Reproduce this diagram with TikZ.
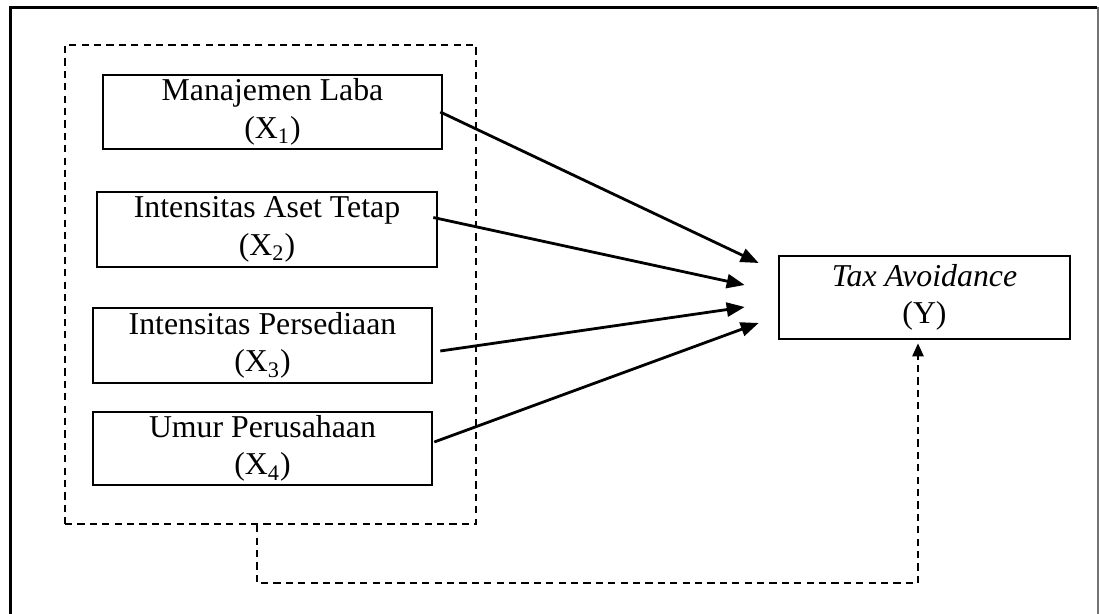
\documentclass[tikz,border=0pt]{standalone}
\usepackage{fontspec}
\setmainfont{Liberation Serif}
\usetikzlibrary{arrows.meta,calc}

\begin{document}
\begin{tikzpicture}[
  x=0.5pt, y=-0.5pt,
  varbox/.style={draw, line width=1.3pt, rectangle, inner sep=0pt, align=center,
    font=\fontsize{15.9pt}{18.8pt}\selectfont},
  groupbox/.style={draw, line width=1.2pt, dash pattern=on 3.6pt off 2.6pt, rectangle, inner sep=0pt},
  effect/.style={line width=1.4pt, -{Triangle[length=9pt,width=7pt]}},
  joint/.style={line width=1.2pt, dash pattern=on 3.6pt off 2.6pt, -{Triangle[length=6.5pt,width=5.5pt]}}
]
\useasboundingbox (0,0) rectangle (1099,614);

% page frame
\draw[line width=1.7pt] (10.5,614) -- (10.5,7.5) -- (1097,7.5);
\draw[line width=1pt, black!55] (1097.5,7.5) -- (1097.5,614);

% group of independent variables
\node[groupbox, minimum width=205.5pt, minimum height=239.5pt] (grp) at (270.5,284.5) {};

% independent variables
\node[varbox, minimum width=169.5pt, minimum height=37pt] (x1) at (272.5,112)
  {Manajemen Laba\\(X\textsubscript{1})};
\node[varbox, minimum width=170pt, minimum height=37.5pt] (x2) at (267,229.5)
  {Intensitas Aset Tetap\\(X\textsubscript{2})};
\node[varbox, minimum width=169.5pt, minimum height=37.5pt] (x3) at (262.5,345.5)
  {Intensitas Persediaan\\(X\textsubscript{3})};
\node[varbox, minimum width=169.5pt, minimum height=36.5pt] (x4) at (262.5,448.5)
  {Umur Perusahaan\\(X\textsubscript{4})};

% dependent variable
\node[varbox, minimum width=145.5pt, minimum height=41.5pt] (yv) at (924.5,297.5)
  {\textit{Tax Avoidance}\\(Y)};

% arrow tips in front of the dependent variable
\coordinate (t1) at ([xshift=-9.5pt,yshift=17.25pt]yv.west);
\coordinate (t2) at ([xshift=-16.5pt,yshift=6.25pt]yv.west);
\coordinate (t3) at ([xshift=-16.5pt,yshift=-4.75pt]yv.west);
\coordinate (t4) at ([xshift=-9.5pt,yshift=-12.75pt]yv.west);

% partial effects
\draw[effect] ([xshift=-1.5pt]x1.east) -- (t1);
\draw[effect] ([xshift=-2.5pt,yshift=6pt]x2.east) -- (t2);
\draw[effect] ([xshift=3.5pt,yshift=-2.75pt]x3.east) -- (t3);
\draw[effect] ([xshift=0.5pt,yshift=3.25pt]x4.east) -- (t4);

% simultaneous effect
\draw[joint] ([xshift=-6.75pt]grp.south) -- ++(0,58) -| ([xshift=-3.25pt,yshift=-1.5pt]yv.south);
\end{tikzpicture}
\end{document}
